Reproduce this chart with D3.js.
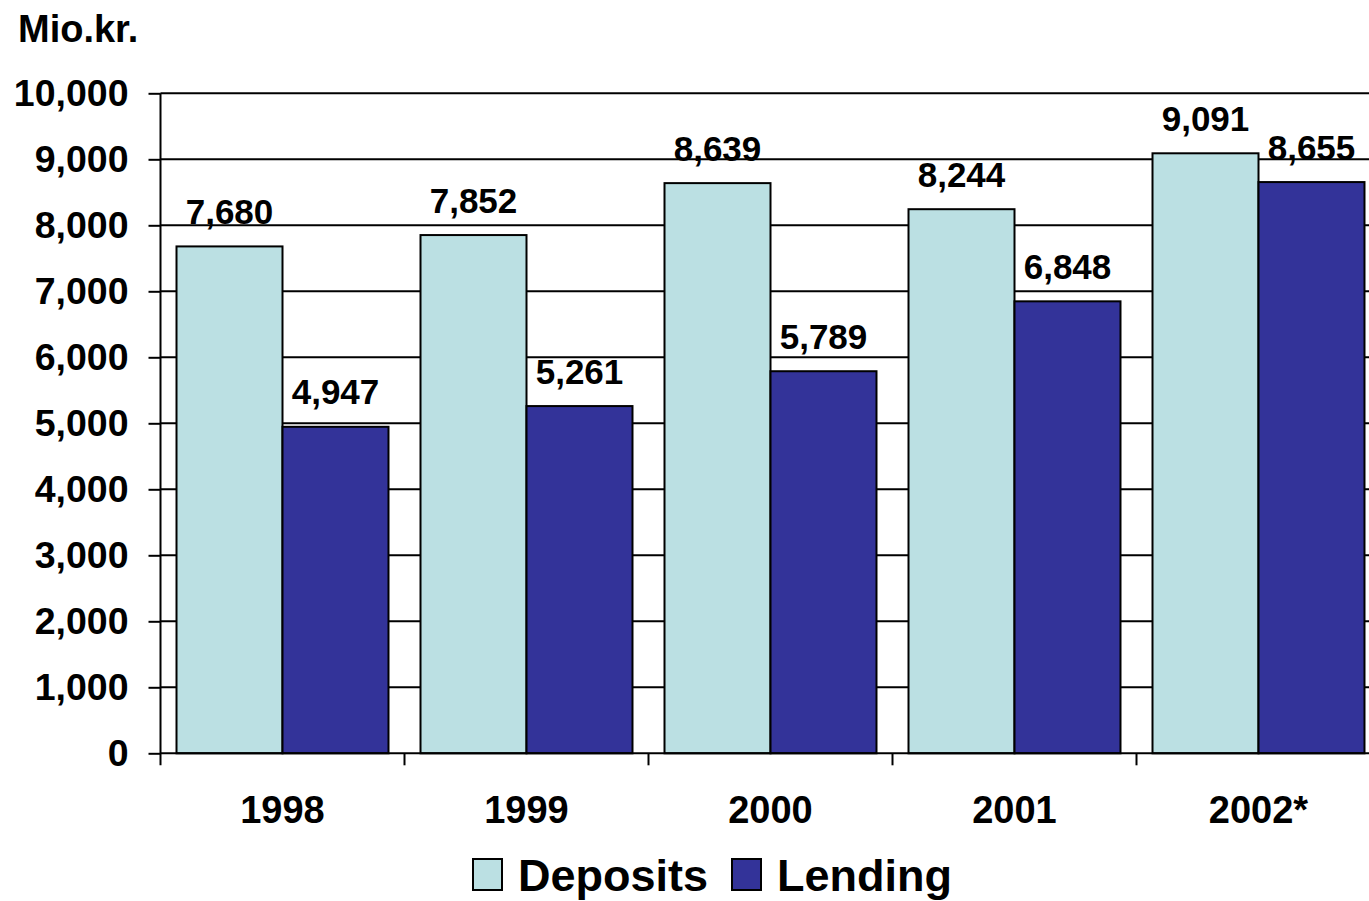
<!DOCTYPE html>
<html>
<head>
<meta charset="utf-8">
<script src="https://cdn.jsdelivr.net/npm/d3@7"></script>
<style>
  html, body { margin: 0; padding: 0; background: #fff; }
  svg { display: block; font-family: "Liberation Sans", Arial, sans-serif; font-weight: bold; }
</style>
</head>
<body>
<svg id="chart" width="1369" height="901"></svg>
<script>
// Deposits and lending, million kroner
const years = ["1998", "1999", "2000", "2001", "2002*"];
const deposits = [7680, 7852, 8639, 8244, 9091];
const lending = [4947, 5261, 5789, 6848, 8655];
const seriesNames = ["Deposits", "Lending"];
const seriesColors = ["#BBE0E3", "#333399"];
const yTicks = [0, 1000, 2000, 3000, 4000, 5000, 6000, 7000, 8000, 9000, 10000];

const svg = d3.select("#chart");
const plotLeft = 160.5, plotRight = 1380.5, plotTop = 93.3, plotBottom = 753.3;

const x0 = d3.scaleBand().domain(years).range([plotLeft, plotRight]).paddingInner(0).paddingOuter(0);
const x1 = d3.scaleBand().domain(seriesNames).range([0, x0.bandwidth()]).paddingInner(0).paddingOuter(0.151);
const y = d3.scaleLinear().domain([0, 10000]).range([plotBottom, plotTop]);
const color = d3.scaleOrdinal().domain(seriesNames).range(seriesColors);

const fmt = d3.format(",");

// horizontal gridlines
svg.append("g")
  .selectAll("line")
  .data(yTicks.filter(d => d > 0))
  .join("line")
  .attr("x1", plotLeft).attr("x2", plotRight)
  .attr("y1", d => y(d)).attr("y2", d => y(d))
  .attr("stroke", "#000").attr("stroke-width", 2);

// bars
const rows = years.map((yr, i) => ({ year: yr, values: [
  { key: "Deposits", value: deposits[i] },
  { key: "Lending", value: lending[i] }
]}));

const groups = svg.append("g").selectAll("g")
  .data(rows)
  .join("g")
  .attr("transform", d => `translate(${x0(d.year)},0)`);

groups.selectAll("rect")
  .data(d => d.values)
  .join("rect")
  .attr("x", d => x1(d.key))
  .attr("y", d => y(d.value))
  .attr("width", x1.bandwidth())
  .attr("height", d => y(0) - y(d.value))
  .attr("fill", d => color(d.key))
  .attr("stroke", "#000")
  .attr("stroke-width", 2);

groups.selectAll("text")
  .data(d => d.values)
  .join("text")
  .attr("x", d => x1(d.key) + x1.bandwidth() / 2)
  .attr("y", d => y(d.value) - 22.5)
  .attr("text-anchor", "middle")
  .attr("font-size", 35)
  .text(d => fmt(d.value));

// y axis
const yAxis = d3.axisLeft(y).tickValues(yTicks).tickFormat(fmt).tickSize(12).tickPadding(20);
const gy = svg.append("g").attr("transform", `translate(${plotLeft},0)`).call(yAxis);
gy.select(".domain").attr("d", `M0,${plotTop}V${plotBottom + 12}`).attr("stroke", "#000").attr("stroke-width", 2);
gy.selectAll(".tick line").attr("stroke", "#000").attr("stroke-width", 2);
gy.selectAll(".tick text")
  .attr("font-family", "Liberation Sans, Arial, sans-serif")
  .attr("font-weight", "bold").attr("font-size", 37.5).attr("fill", "#000");

// x axis baseline and category dividers
svg.append("line")
  .attr("x1", plotLeft).attr("x2", plotRight)
  .attr("y1", plotBottom).attr("y2", plotBottom)
  .attr("stroke", "#000").attr("stroke-width", 2);

svg.append("g").selectAll("line")
  .data(years)
  .join("line")
  .attr("x1", d => x0(d) + x0.step())
  .attr("x2", d => x0(d) + x0.step())
  .attr("y1", plotBottom).attr("y2", plotBottom + 12)
  .attr("stroke", "#000").attr("stroke-width", 2);

svg.append("g").selectAll("text")
  .data(years)
  .join("text")
  .attr("x", d => x0(d) + x0.bandwidth() / 2)
  .attr("y", 823)
  .attr("text-anchor", "middle")
  .attr("font-size", 38)
  .text(d => d);

// unit label
svg.append("text")
  .attr("x", 18).attr("y", 42)
  .attr("font-size", 38)
  .text("Mio.kr.");

// legend
const legend = svg.append("g");
const legendItems = [
  { name: "Deposits", box: 473, text: 518 },
  { name: "Lending", box: 732, text: 777 }
];
legend.selectAll("rect")
  .data(legendItems)
  .join("rect")
  .attr("x", d => d.box).attr("y", 859)
  .attr("width", 29).attr("height", 31)
  .attr("fill", d => color(d.name))
  .attr("stroke", "#000").attr("stroke-width", 2);
legend.selectAll("text")
  .data(legendItems)
  .join("text")
  .attr("x", d => d.text).attr("y", 890.5)
  .attr("font-size", 45)
  .text(d => d.name);
</script>
</body>
</html>
